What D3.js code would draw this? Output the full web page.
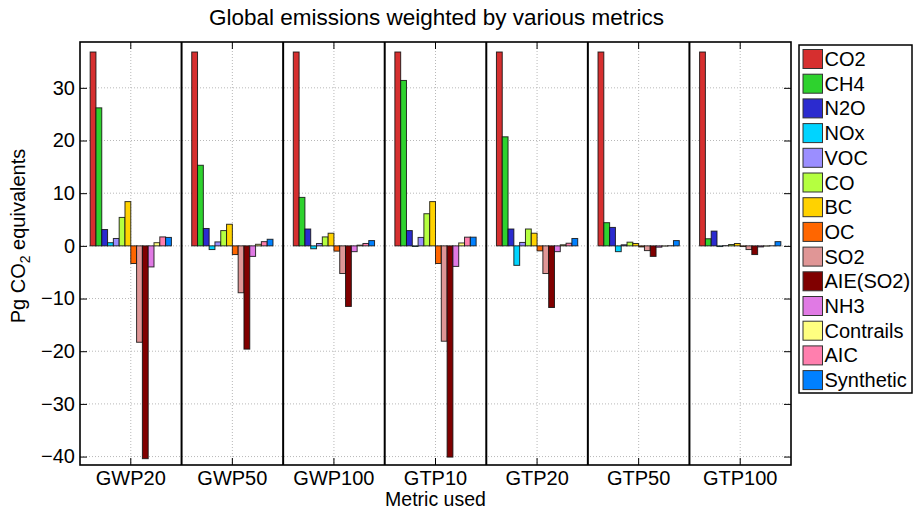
<!DOCTYPE html>
<html>
<head>
<meta charset="utf-8">
<script src="https://cdnjs.cloudflare.com/ajax/libs/d3/7.8.5/d3.min.js"></script>
<style>
  html, body { margin: 0; padding: 0; background: #fff; }
  svg { display: block; font-family: "Liberation Sans", Arial, Helvetica, sans-serif; }
</style>
</head>
<body>
<svg id="chart" width="914" height="508"></svg>
<script>
// Metrics used to weight emissions (one panel each)
const metrics = ["GWP20", "GWP50", "GWP100", "GTP10", "GTP20", "GTP50", "GTP100"];

// Species, in drawing / legend order
const species = ["CO2", "CH4", "N2O", "NOx", "VOC", "CO", "BC", "OC", "SO2",
                 "AIE(SO2)", "NH3", "Contrails", "AIC", "Synthetic"];

const speciesColors = ["#d62f2f", "#2ed22e", "#2b2bcf", "#00d4ff", "#9b8eff", "#b5ff40", "#ffd200",
                       "#ff6600", "#e09696", "#800000", "#e07ae4", "#ffff80", "#ff7fae", "#0080ff"];

// Pg CO2 equivalents per species, one value per metric (same order as `metrics`)
const co2       = [36.8, 36.8, 36.8, 36.8, 36.8, 36.8, 36.8];
const ch4       = [26.2, 15.3,  9.2, 31.4, 20.7,  4.4,  1.35];
const n2o       = [ 3.1,  3.3,  3.2,  2.9,  3.2,  3.5,  2.8];
const nox       = [ 0.6, -0.7, -0.55, -0.12, -3.7, -1.1, -0.13];
const voc       = [ 1.4,  0.75, 0.45, 1.6,  0.65, 0.2,  0.05];
const co        = [ 5.4,  2.9,  1.7,  6.1,  3.2,  0.7,  0.25];
const bc        = [ 8.4,  4.1,  2.4,  8.4,  2.4,  0.45, 0.45];
const oc        = [-3.35, -1.65, -1.0, -3.35, -0.95, -0.2, -0.13];
const so2       = [-18.3, -8.9, -5.25, -18.1, -5.25, -0.9, -0.7];
const aie       = [-40.4, -19.6, -11.5, -40.1, -11.7, -2.0, -1.65];
const nh3       = [-4.0, -2.0, -1.1, -3.9, -1.1, -0.25, -0.2];
const contrails = [ 0.6,  0.3,  0.13, 0.55, 0.2, -0.05, -0.05];
const aic       = [ 1.7,  0.8,  0.45, 1.65, 0.5,  0.03,  0.02];
const synthetic = [ 1.6,  1.25, 1.0,  1.65, 1.4,  1.0,  0.8];

const seriesValues = [co2, ch4, n2o, nox, voc, co, bc, oc, so2, aie, nh3, contrails, aic, synthetic];

const yTicks = [-40, -30, -20, -10, 0, 10, 20, 30];

const titleText = "Global emissions weighted by various metrics";
const xLabel = "Metric used";

// ---- layout ----
const plot = { left: 80, right: 791, top: 42, bottom: 465 };
const FONT = 20;
const svg = d3.select("#chart");

const x = d3.scaleBand().domain(metrics).range([plot.left, plot.right]).padding(0);
const inner = d3.scaleBand().domain(species)
  .range([x.bandwidth() * 0.1, x.bandwidth() * 0.9]).padding(0);
const y = d3.scaleLinear().domain([-41.6, 38.7]).range([plot.bottom, plot.top]);

const tickFmt = v => (v < 0 ? "\u2212" + Math.abs(v) : String(v));

// grid: dotted horizontals at y ticks, dotted verticals at panel centres
const grid = svg.append("g");
grid.selectAll("line.h").data(yTicks).join("line")
  .attr("x1", plot.left).attr("x2", plot.right)
  .attr("y1", d => y(d)).attr("y2", d => y(d))
  .attr("stroke", "#b8b8b8").attr("stroke-width", 1).attr("stroke-dasharray", "1,2");
grid.selectAll("line.v").data(metrics).join("line")
  .attr("x1", d => x(d) + x.bandwidth() / 2).attr("x2", d => x(d) + x.bandwidth() / 2)
  .attr("y1", plot.top).attr("y2", plot.bottom)
  .attr("stroke", "#b8b8b8").attr("stroke-width", 1).attr("stroke-dasharray", "1,2");

// bars
const rows = [];
metrics.forEach((m, mi) => {
  species.forEach((s, si) => rows.push({ metric: m, sp: s, si, v: seriesValues[si][mi] }));
});
svg.append("g").selectAll("rect").data(rows).join("rect")
  .attr("x", d => x(d.metric) + inner(d.sp))
  .attr("width", inner.bandwidth())
  .attr("y", d => Math.min(y(d.v), y(0)))
  .attr("height", d => Math.abs(y(d.v) - y(0)))
  .attr("fill", d => speciesColors[d.si])
  .attr("stroke", "#111").attr("stroke-width", 1).attr("stroke-opacity", 0.85);

// axes with inward ticks (labels only on the left and bottom)
const yAxisL = d3.axisLeft(y).tickValues(yTicks).tickFormat(tickFmt).tickSizeInner(-7).tickSizeOuter(0).tickPadding(5);
const gL = svg.append("g").attr("transform", `translate(${plot.left},0)`).call(yAxisL);
gL.select(".domain").remove();
gL.selectAll("text").attr("font-size", FONT).attr("fill", "#000")
  .attr("font-family", "Liberation Sans, Arial, sans-serif").attr("x", -5);
gL.selectAll("line").attr("stroke", "#000");

const yAxisR = d3.axisRight(y).tickValues(yTicks).tickFormat("").tickSizeInner(-7).tickSizeOuter(0);
const gR = svg.append("g").attr("transform", `translate(${plot.right},0)`).call(yAxisR);
gR.select(".domain").remove();
gR.selectAll("line").attr("stroke", "#000");

const xAxisB = d3.axisBottom(x).tickSizeInner(-7).tickSizeOuter(0).tickPadding(6);
const gB = svg.append("g").attr("transform", `translate(0,${plot.bottom})`).call(xAxisB);
gB.select(".domain").remove();
gB.selectAll("text").attr("font-size", FONT).attr("fill", "#000").attr("font-family", "Liberation Sans, Arial, sans-serif");
gB.selectAll("line").attr("stroke", "#000");

const xAxisT = d3.axisTop(x).tickFormat("").tickSizeInner(-7).tickSizeOuter(0);
const gT = svg.append("g").attr("transform", `translate(0,${plot.top})`).call(xAxisT);
gT.select(".domain").remove();
gT.selectAll("line").attr("stroke", "#000");

// panel separators
svg.append("g").selectAll("line").data(metrics.slice(1)).join("line")
  .attr("x1", d => x(d)).attr("x2", d => x(d))
  .attr("y1", plot.top).attr("y2", plot.bottom)
  .attr("stroke", "#000").attr("stroke-width", 2);

// axes box
svg.append("rect")
  .attr("x", plot.left).attr("y", plot.top)
  .attr("width", plot.right - plot.left).attr("height", plot.bottom - plot.top)
  .attr("fill", "none").attr("stroke", "#000").attr("stroke-width", 1.6);

// title and axis labels
svg.append("text").attr("x", (plot.left + plot.right) / 2 + 1).attr("y", 25)
  .attr("text-anchor", "middle").attr("font-size", 22.5).text(titleText);

svg.append("text").attr("x", (plot.left + plot.right) / 2).attr("y", 505.5)
  .attr("text-anchor", "middle").attr("font-size", 19.5).text(xLabel);

const yl = svg.append("text")
  .attr("transform", `translate(25,236) rotate(-90)`)
  .attr("text-anchor", "middle").attr("font-size", FONT);
yl.append("tspan").text("Pg CO");
yl.append("tspan").attr("font-size", 14).attr("dy", 5).text("2");
yl.append("tspan").attr("dy", -5).text(" equivalents");

// legend
const lg = svg.append("g");
lg.append("rect").attr("x", 799).attr("y", 45).attr("width", 113).attr("height", 348)
  .attr("fill", "#fff").attr("stroke", "#000").attr("stroke-width", 1.5);
const item = lg.selectAll("g.item").data(species).join("g")
  .attr("transform", (d, i) => `translate(803,${49.5 + i * 24.7})`);
item.append("rect").attr("width", 19.5).attr("height", 19)
  .attr("fill", (d, i) => speciesColors[i]).attr("stroke", "#333").attr("stroke-width", 1);
item.append("text").attr("x", 21.5).attr("y", 16.5).attr("font-size", FONT).text(d => d);
</script>
</body>
</html>
